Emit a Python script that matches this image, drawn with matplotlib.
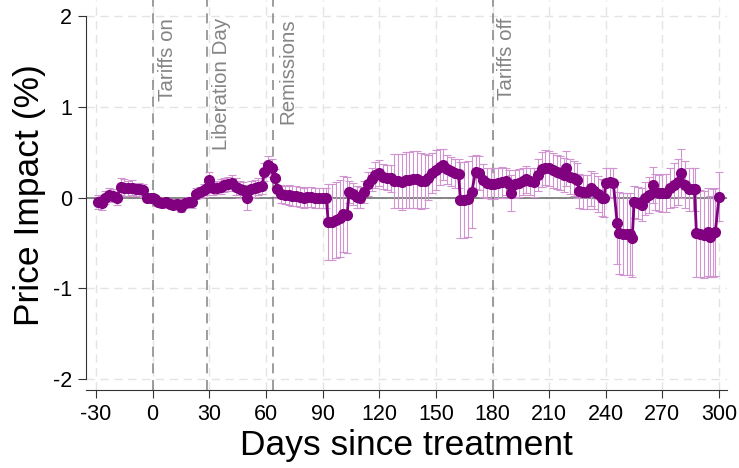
import numpy as np
import matplotlib.pyplot as plt

# event-study estimates
days = [-29, -27, -25, -23, -21, -19, -17, -15, -13, -11, -9, -7, -5, -3, -1,
        0, 1, 3, 5, 7, 9, 11, 13, 15, 17, 19, 21, 23, 25, 27, 29,
        30, 32, 34, 36, 38, 40, 42, 44, 46, 48, 50, 52, 54, 56, 58,
        59, 61, 63, 65, 66, 68, 70, 72, 74, 76, 78, 80, 82, 84, 86, 88, 90, 92,
        93, 95, 97, 99, 101, 103, 104, 106, 108, 110, 112, 114, 116, 118, 120,
        122, 124, 126, 128, 130, 132, 134, 136, 138, 140, 142, 144, 146, 148,
        150, 152, 154, 156, 158, 160, 162, 163, 165, 167, 169, 171, 173, 175,
        177, 179, 181, 183, 185, 187, 189, 190, 192, 194, 196, 198, 200, 202,
        204, 206, 208, 210, 212, 214, 216, 218, 219, 221, 223, 225, 226, 228,
        230, 232, 234, 236, 238, 239, 240, 242, 244, 246, 247, 249, 251, 253,
        254, 255, 257, 259, 261, 263, 265, 266, 268, 270, 272, 274, 276, 278,
        280, 282, 284, 286, 287, 288, 290, 292, 294, 295, 297, 298, 300]
est = [-0.05, -0.06, 0.00, 0.03, 0.02, -0.01, 0.12, 0.11, 0.10, 0.11, 0.09, 0.09, 0.08, -0.01, -0.01,
       0.00, -0.02, -0.05, -0.06, -0.05, -0.07, -0.08, -0.07, -0.10, -0.06, -0.05, -0.05, 0.04, 0.06, 0.08, 0.10,
       0.19, 0.10, 0.11, 0.12, 0.14, 0.15, 0.16, 0.12, 0.09, 0.08, 0.00, 0.09, 0.10, 0.12, 0.13,
       0.28, 0.36, 0.33, 0.21, 0.09, 0.04, 0.03, 0.03, 0.02, 0.02, 0.01, 0.00, 0.01, 0.01, 0.00, 0.00, -0.01, -0.01,
       -0.27, -0.27, -0.25, -0.23, -0.18, -0.19, 0.06, 0.04, 0.01, 0.00, 0.06, 0.15, 0.20, 0.25, 0.27,
       0.23, 0.22, 0.21, 0.18, 0.18, 0.17, 0.19, 0.19, 0.20, 0.20, 0.18, 0.18, 0.22, 0.27,
       0.30, 0.34, 0.36, 0.31, 0.29, 0.27, 0.26, -0.03, -0.03, -0.02, 0.06, 0.28, 0.27, 0.19,
       0.16, 0.15, 0.15, 0.16, 0.17, 0.18, 0.15, 0.05, 0.15, 0.16, 0.18, 0.20, 0.18, 0.17,
       0.25, 0.31, 0.33, 0.32, 0.30, 0.28, 0.27, 0.25, 0.32, 0.23, 0.21, 0.19, 0.07, 0.06,
       0.06, 0.10, 0.07, 0.04, 0.00, -0.01, 0.16, 0.17, 0.16, -0.28, -0.39, -0.40, -0.40, -0.40,
       -0.45, -0.05, -0.06, -0.08, -0.01, 0.03, 0.14, 0.06, 0.05, 0.05, 0.05, 0.10, 0.14, 0.17,
       0.27, 0.14, 0.09, 0.09, 0.09, -0.39, -0.40, -0.41, -0.38, -0.43, -0.39, -0.38, 0.01]
ci = [0.08, 0.08, 0.07, 0.07, 0.07, 0.07, 0.09, 0.09, 0.08, 0.08, 0.07, 0.07, 0.07, 0.03, 0.02,
      0.00, 0.02, 0.04, 0.05, 0.05, 0.05, 0.05, 0.05, 0.06, 0.06, 0.06, 0.06, 0.06, 0.06, 0.07, 0.07,
      0.09, 0.07, 0.07, 0.08, 0.08, 0.08, 0.09, 0.09, 0.09, 0.09, 0.14, 0.09, 0.09, 0.09, 0.09,
      0.10, 0.10, 0.10, 0.10, 0.10, 0.10, 0.10, 0.11, 0.11, 0.11, 0.11, 0.11, 0.11, 0.11, 0.11, 0.11, 0.11, 0.11,
      0.42, 0.42, 0.42, 0.42, 0.42, 0.42, 0.12, 0.12, 0.12, 0.12, 0.12, 0.13, 0.13, 0.14, 0.14,
      0.14, 0.14, 0.15, 0.30, 0.30, 0.31, 0.31, 0.31, 0.31, 0.31, 0.31, 0.30, 0.25, 0.22,
      0.22, 0.20, 0.17, 0.16, 0.16, 0.16, 0.16, 0.42, 0.42, 0.42, 0.40, 0.19, 0.19, 0.18,
      0.17, 0.17, 0.17, 0.17, 0.17, 0.15, 0.15, 0.20, 0.15, 0.15, 0.15, 0.15, 0.15, 0.16,
      0.18, 0.19, 0.19, 0.19, 0.19, 0.19, 0.19, 0.19, 0.19, 0.19, 0.19, 0.19, 0.19, 0.19,
      0.19, 0.19, 0.20, 0.20, 0.20, 0.20, 0.16, 0.16, 0.16, 0.45, 0.45, 0.45, 0.45, 0.45,
      0.42, 0.18, 0.18, 0.18, 0.18, 0.20, 0.20, 0.20, 0.20, 0.21, 0.21, 0.22, 0.24, 0.25,
      0.27, 0.26, 0.24, 0.24, 0.24, 0.48, 0.48, 0.48, 0.48, 0.45, 0.48, 0.48, 0.27]

events = [0, 29, 64, 180]
event_labels = ["Tariffs on", "Liberation Day", "Remissions", "Tariffs off"]

xticks = list(range(-30, 301, 30))
yticks = [-2, -1, 0, 1, 2]

plt.rcParams['font.family'] = ['Liberation Sans', 'DejaVu Sans']
plt.rcParams['axes.unicode_minus'] = False

fig = plt.figure(figsize=(7.39, 4.68), dpi=100)
ax = fig.add_axes([86 / 739, 78 / 468, (727 - 86) / 739, 1 - 78 / 468])

# light grid
for xt in xticks:
    ax.axvline(xt, color='#e4e4e4', lw=1, ls=(0, (6, 4)), zorder=0)
for yt in yticks:
    ax.axhline(yt, color='#e4e4e4', lw=1, ls=(0, (6, 4)), zorder=0)

# event lines with labels
for d, lab in zip(events, event_labels):
    ax.axvline(d, color='#8c8c8c', lw=1.2, ls=(0, (6, 4)), zorder=1)
    ax.annotate(lab, xy=(d, 1.0), xycoords=('data', 'axes fraction'),
                xytext=(3.5, -13), textcoords='offset points',
                rotation=90, ha='left', va='top', fontsize=14.8, color='#858585')

ax.axhline(0, color='#666666', lw=1.1, zorder=2)

est = np.array(est)
ci = np.array(ci)
ax.errorbar(days, est, yerr=ci, fmt='none', ecolor='#d095d0', elinewidth=0.8,
            capsize=3, capthick=0.8, zorder=3)
ax.plot(days, est, color='#800080', lw=2, marker='o', markersize=7, zorder=4)

ax.set_xlim(-35.3, 304.2)
ax.set_ylim(-2.12, 2.176)
ax.set_xticks(xticks)
ax.set_yticks(yticks)
ax.tick_params(labelsize=15.5, length=6, color='#333333', pad=4)

for s in ['top', 'right']:
    ax.spines[s].set_visible(False)
ax.spines['left'].set_bounds(-2, 2)
ax.spines['left'].set_color('#333333')
ax.spines['bottom'].set_color('#333333')

ax.set_xlabel("Days since treatment", fontsize=25.5, labelpad=3)
ax.set_ylabel("Price Impact (%)", fontsize=25.5, labelpad=5)

fig.savefig("out.png", dpi=100)
